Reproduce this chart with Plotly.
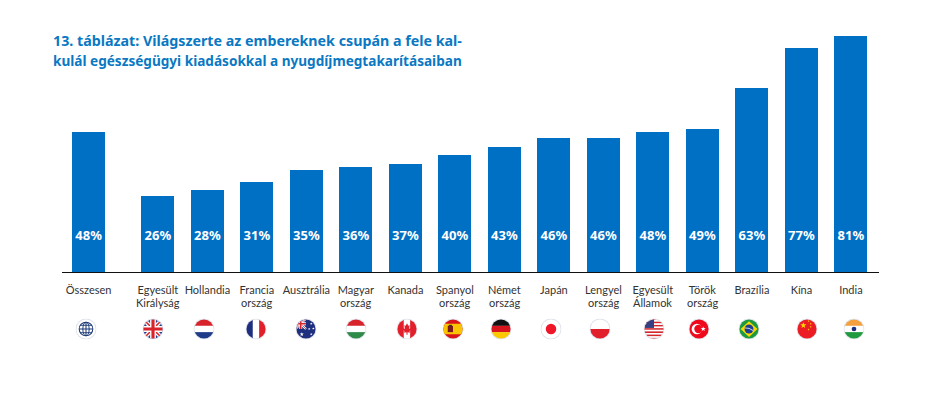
import base64
import math
import plotly.graph_objects as go

first_lines = ["Összesen", "Egyesült", "Hollandia", "Francia", "Ausztrália", "Magyar", "Kanada", "Spanyol",
               "Német", "Japán", "Lengyel", "Egyesült", "Török", "Brazília", "Kína", "India"]
second_lines = ["", "Királyság", "", "ország", "", "ország", "", "ország", "ország", "", "ország", "Államok",
                "ország", "", "", ""]
values = [48, 26, 28, 31, 35, 36, 37, 40, 43, 46, 46, 48, 49, 63, 77, 81]
title_lines = ["13. táblázat: Világszerte az embereknek csupán a fele kal-",
               "kulál egészségügyi kiadásokkal a nyugdíjmegtakarításaiban"]
flag_codes = ["globe", "uk", "nl", "fr", "au", "hu", "ca", "es", "de", "jp", "pl", "us", "tr", "br", "cn", "in"]
flag_px = [86, 153, 204, 256, 306, 356, 407, 453, 501, 551, 600, 654, 699, 749, 807, 854]

OFF = 8  # the page's own body margin
BLUE = "#0070c4"
W, H = 936 - 2 * OFF, 394 - 2 * OFF
L, R, T, B = 62 - OFF, 879 - OFF, 30 - OFF, 272 - OFF
UNIT = 49.5
X0 = 88.6 - OFF
GAP = 0.4
PX_PER = 2.915
FONT = "Noto Sans"
LABEL_FONT = "Lato"
xs = [0 if i == 0 else i + GAP for i in range(len(values))]
LABEL_LEVEL = 12.0


def stripes(a, b, c, vertical=False):
    if vertical:
        return (f'<rect x="0" width="14" height="40" fill="{a}"/><rect x="14" width="12" height="40" fill="{b}"/>'
                f'<rect x="26" width="14" height="40" fill="{c}"/>')
    return (f'<rect y="0" width="40" height="14" fill="{a}"/><rect y="14" width="40" height="12" fill="{b}"/>'
            f'<rect y="26" width="40" height="14" fill="{c}"/>')


def union(scale=1.0, tx=0, ty=0):
    return (f'<g transform="translate({tx} {ty}) scale({scale})"><rect width="40" height="40" fill="#1f3c88"/>'
            '<path d="M0 0L40 40M40 0L0 40" stroke="#fff" stroke-width="8"/>'
            '<path d="M0 0L40 40M40 0L0 40" stroke="#d8232a" stroke-width="3"/>'
            '<path d="M20 0V40M0 20H40" stroke="#fff" stroke-width="11"/>'
            '<path d="M20 0V40M0 20H40" stroke="#d8232a" stroke-width="6"/></g>')


def star(cx, cy, r, fill):
    pts = []
    for k in range(10):
        rad = r if k % 2 == 0 else r * 0.42
        ang = -math.pi / 2 + k * math.pi / 5
        pts.append(f"{cx + rad * math.cos(ang):.1f},{cy + rad * math.sin(ang):.1f}")
    return f'<polygon points="{" ".join(pts)}" fill="{fill}"/>'


us_stripes = "".join(f'<rect y="{i * 40 / 13:.2f}" width="40" height="{40 / 13:.2f}" fill="{"#d8232a" if i % 2 == 0 else "#fff"}"/>' for i in range(13))

art = {
    "globe": '<rect width="40" height="40" fill="#fff"/><g fill="none" stroke="#1f3c78" stroke-width="2">'
             '<circle cx="20" cy="20" r="13"/><ellipse cx="20" cy="20" rx="6" ry="13"/>'
             '<path d="M20 7V33M7 20H33M9 13H31M9 27H31"/></g>',
    "uk": union(),
    "nl": stripes("#d8232a", "#fff", "#1f3c88"),
    "fr": stripes("#1f2f7f", "#fff", "#e2202c", True),
    "au": '<rect width="40" height="40" fill="#1f2f7f"/>' + union(0.5)
          + star(12, 30, 4, "#fff") + star(30, 10, 2.5, "#fff") + star(26, 20, 2.5, "#fff")
          + star(34, 19, 2.5, "#fff") + star(30, 30, 2.5, "#fff"),
    "hu": stripes("#d8232a", "#fff", "#2e8b4a"),
    "ca": stripes("#e2202c", "#fff", "#e2202c", True)
          + '<polygon points="20,9 22.5,14 25,13 24,20 27,18 28,21 25,24 25.5,27 21,26 21,31 19,31 19,26 14.5,27 15,24 12,21 13,18 16,20 15,13 17.5,14" fill="#e2202c"/>',
    "es": '<rect width="40" height="40" fill="#d9151c"/><rect y="10" width="40" height="20" fill="#fbc400"/>'
          '<rect x="10" y="14" width="10" height="12" fill="#7a1a1a"/><rect x="12" y="12" width="6" height="3" fill="#333"/>',
    "de": '<rect width="40" height="14" fill="#111"/><rect y="14" width="40" height="12" fill="#d8141c"/>'
          '<rect y="26" width="40" height="14" fill="#fcc800"/>',
    "jp": '<rect width="40" height="40" fill="#fff"/><circle cx="20" cy="20" r="10" fill="#f0162a"/>',
    "pl": '<rect width="40" height="20" fill="#fff"/><rect y="20" width="40" height="20" fill="#e2202c"/>',
    "us": us_stripes + '<rect width="20" height="18" fill="#34407f"/>',
    "tr": '<rect width="40" height="40" fill="#ee0a1c"/><circle cx="16" cy="20" r="10" fill="#fff"/>'
          '<circle cx="19" cy="20" r="8" fill="#ee0a1c"/>' + star(28, 20, 5, "#fff"),
    "br": '<rect width="40" height="40" fill="#1d9a3e"/><polygon points="20,5 36,20 20,35 4,20" fill="#fbd800"/>'
          '<circle cx="20" cy="20" r="8.5" fill="#1e3f8f"/><path d="M12 18Q20 17 28 23" stroke="#fff" stroke-width="1.5" fill="none"/>',
    "cn": '<rect width="40" height="40" fill="#ec1c24"/>' + star(13, 13, 6, "#fdd800") + star(23, 5, 2.2, "#fdd800")
          + star(27, 10, 2.2, "#fdd800") + star(27, 16, 2.2, "#fdd800") + star(23, 21, 2.2, "#fdd800"),
    "in": stripes("#f5a03c", "#fff", "#1f9a3e") + '<circle cx="20" cy="20" r="4.5" fill="#1f2f7f"/>',
}


def flag_uri(code):
    svg = ('<svg xmlns="http://www.w3.org/2000/svg" width="80" height="80" viewBox="0 0 40 40">'
           f'<defs><clipPath id="c{code}"><circle cx="20" cy="20" r="18.2"/></clipPath></defs>'
           '<circle cx="20" cy="20" r="20" fill="#dfe3ea"/>'
           f'<g clip-path="url(#c{code})">{art[code]}</g></svg>')
    return "data:image/svg+xml;base64," + base64.b64encode(svg.encode()).decode()


fig = go.Figure()
fig.add_bar(x=xs, y=values, width=33 / UNIT, marker=dict(color=BLUE, line=dict(width=0)), hoverinfo="skip")
fig.add_scatter(x=xs, y=[LABEL_LEVEL] * len(xs), mode="text", text=[f"{v}%" for v in values],
                textposition="middle center", textfont=dict(color="white", size=13, family=FONT, weight=700),
                hoverinfo="skip", cliponaxis=False)

images = [dict(source=flag_uri(c), xref="paper", yref="paper", x=(p - OFF - L) / (R - L),
               y=(B - (329 - OFF)) / (B - T), sizex=21 / (R - L), sizey=21 / (B - T),
               xanchor="center", yanchor="middle", sizing="contain", layer="above")
          for c, p in zip(flag_codes, flag_px)]

annotations = [dict(text=t, xref="paper", yref="paper", x=(51 - OFF - L) / (R - L), y=(B - (yy - OFF)) / (B - T),
                    xanchor="left", yanchor="middle", showarrow=False, align="left",
                    font=dict(family=FONT, size=s, weight=700, color="#0a78c2"))
               for t, yy, s in zip(title_lines, [41, 60], [14.25, 13.6])]
annotations += [dict(text=t, x=x, xref="x", yref="paper", y=(B - (302.5 - OFF)) / (B - T), xanchor="center",
                     yanchor="middle", showarrow=False, font=dict(family=LABEL_FONT, size=11, color="#333"))
                for t, x in zip(second_lines, xs) if t]

fig.update_layout(
    width=W, height=H, margin=dict(l=L, r=W - R, t=T, b=H - B, pad=0, autoexpand=False),
    paper_bgcolor="white", plot_bgcolor="white", showlegend=False, bargap=0,
    xaxis=dict(range=[(L - X0) / UNIT, (R - X0) / UNIT], tickmode="array", tickvals=xs, ticktext=first_lines,
               ticks="", showgrid=False, zeroline=False, showline=True, linecolor="#111", linewidth=1,
               tickfont=dict(family=LABEL_FONT, size=11, color="#333"), ticklabelstandoff=8, tickangle=0,
               automargin=False),
    yaxis=dict(range=[0, (B - T) / PX_PER], visible=False, showgrid=False, zeroline=False),
    images=images, annotations=annotations,
)
fig.write_html("out.html", config=dict(displayModeBar=False))
